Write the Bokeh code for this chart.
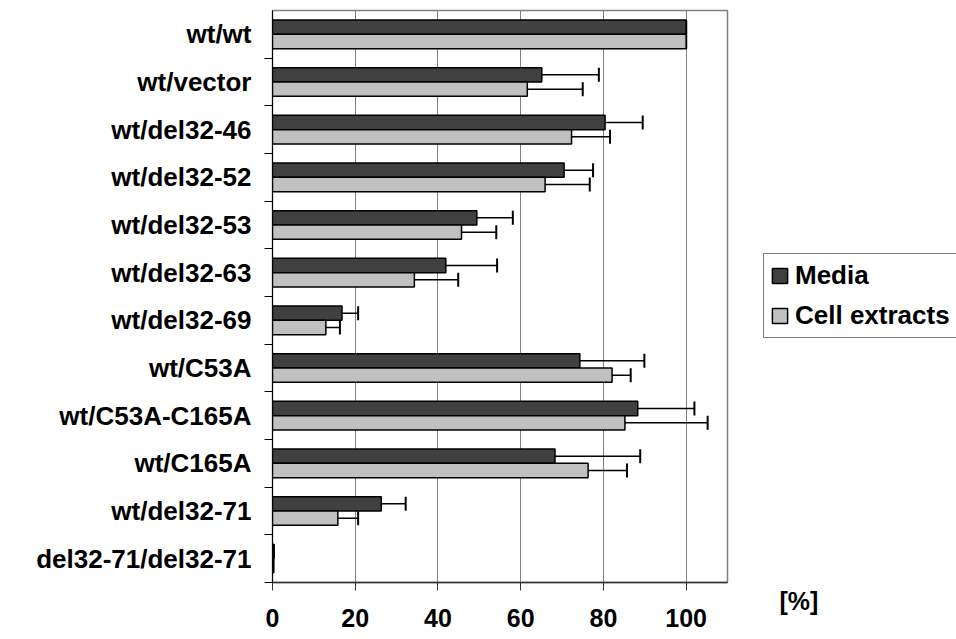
from bokeh.plotting import figure
from bokeh.layouts import row
from bokeh.models import (Range1d, FixedTicker, ColumnDataSource, Whisker, TeeHead,
                          Legend, LegendItem, Title, CustomJSTickFormatter)
from bokeh.embed import file_html
from bokeh.resources import INLINE

categories = ["wt/wt", "wt/vector", "wt/del32-46", "wt/del32-52", "wt/del32-53",
              "wt/del32-63", "wt/del32-69", "wt/C53A", "wt/C53A-C165A", "wt/C165A",
              "wt/del32-71", "del32-71/del32-71"]
media = [100, 65.1, 80.4, 70.5, 49.4, 41.9, 16.8, 74.3, 88.3, 68.3, 26.3, 0.3]
media_err = [0, 13.8, 9.1, 7.0, 8.7, 12.4, 3.9, 15.6, 13.7, 20.6, 5.9, 0]
cell = [100, 61.6, 72.3, 65.9, 45.7, 34.3, 12.9, 82.1, 85.2, 76.3, 15.8, 0.2]
cell_err = [0, 13.4, 9.3, 10.8, 8.4, 10.6, 3.4, 4.5, 20.0, 9.4, 4.9, 0]
x_ticks = [0, 20, 40, 60, 80, 100]
grid_ticks = [20, 40, 60, 80, 100]
series_names = ["Media", "Cell extracts"]
series_colors = ["#404040", "#c0c0c0"]
unit_text = "[%]"

n = len(categories)
pos = [n - 1 - i for i in range(n)]          # first category at the top
bottom_up = list(reversed(categories))
bar_h = 0.3

src = ColumnDataSource(dict(
    ym=[k + bar_h / 2 for k in pos],
    yc=[k - bar_h / 2 for k in pos],
    media=media, cell=cell,
    m_lo=[v - e for v, e in zip(media, media_err)],
    m_hi=[v + e for v, e in zip(media, media_err)],
    c_lo=[v - e for v, e in zip(cell, cell_err)],
    c_hi=[v + e for v, e in zip(cell, cell_err)],
))

FONT = "Liberation Sans"
H = 639

p = figure(width=760, height=H, x_range=Range1d(0, 110), y_range=Range1d(-0.5, n - 0.5),
           output_backend="svg", toolbar_location=None,
           min_border_left=272, min_border_right=33, min_border_top=10, min_border_bottom=57)
p.background_fill_color = "white"
p.border_fill_color = "white"
p.outline_line_color = "#808080"
p.outline_line_width = 1.5

# grid
p.ygrid.visible = False
p.xgrid.ticker = FixedTicker(ticks=grid_ticks)
p.xgrid.grid_line_color = "#808080"
p.xgrid.grid_line_width = 1

# x axis
xa = p.xaxis[0]
xa.ticker = FixedTicker(ticks=x_ticks)
xa.axis_line_color = "#303030"
xa.axis_line_width = 1.5
xa.major_tick_line_color = "#303030"
xa.major_tick_line_width = 1
xa.major_tick_out = 8
xa.major_tick_in = 0
xa.minor_tick_line_color = None
xa.major_label_text_font = FONT
xa.major_label_text_font_style = "bold"
xa.major_label_text_font_size = "25px"
xa.major_label_text_color = "black"
xa.major_label_standoff = 18

# y axis
ya = p.yaxis[0]
ya.ticker = FixedTicker(ticks=pos, minor_ticks=[k - 0.5 for k in range(n)])
ya.formatter = CustomJSTickFormatter(args=dict(labels=bottom_up),
                                     code="const i = Math.round(tick); return labels[i] ?? '';")
ya.axis_line_color = "black"
ya.axis_line_width = 1
ya.major_tick_out = 0
ya.major_tick_in = 0
ya.minor_tick_out = 8
ya.minor_tick_in = 0
ya.minor_tick_line_color = "black"
ya.minor_tick_line_width = 1
ya.major_label_text_font = FONT
ya.major_label_text_font_style = "bold"
ya.major_label_text_font_size = "26px"
ya.major_label_text_color = "black"
ya.major_label_standoff = 13

# bars
r1 = p.hbar(y="ym", left=0, right="media", height=bar_h, source=src,
            fill_color=series_colors[0], line_color="black", line_width=1.5)
r2 = p.hbar(y="yc", left=0, right="cell", height=bar_h, source=src,
            fill_color=series_colors[1], line_color="black", line_width=1.5)

# error bars
for base, lo, hi in (("ym", "m_lo", "m_hi"), ("yc", "c_lo", "c_hi")):
    w = Whisker(source=src, base=base, lower=lo, upper=hi, dimension="width",
                line_color="black", line_width=1.5,
                lower_head=TeeHead(size=14, line_width=2, line_color="black"),
                upper_head=TeeHead(size=14, line_width=2, line_color="black"))
    p.add_layout(w)

# side panel holding the legend and the unit label
q = figure(width=196, height=H, x_range=Range1d(0, 110), y_range=Range1d(-0.5, n - 0.5),
           x_axis_type=None, y_axis_type=None, output_backend="svg", toolbar_location=None,
           min_border_left=0, min_border_right=0, min_border_top=10, min_border_bottom=57)
q.outline_line_color = None
q.background_fill_color = "white"
q.border_fill_color = "white"
q.grid.visible = False
# legend keys: same series styling, not drawn in this panel
k1 = q.hbar(y="ym", left=0, right="media", height=bar_h, source=src, visible=False,
            fill_color=series_colors[0], line_color="black", line_width=1.5)
k2 = q.hbar(y="yc", left=0, right="cell", height=bar_h, source=src, visible=False,
            fill_color=series_colors[1], line_color="black", line_width=1.5)

legend = Legend(items=[LegendItem(label=series_names[0], renderers=[k1], index=0),
                       LegendItem(label=series_names[1], renderers=[k2], index=0)],
                location=(3, 244), orientation="vertical")
legend.border_line_color = "black"
legend.border_line_width = 1
legend.background_fill_color = "white"
legend.background_fill_alpha = 1
legend.inactive_fill_alpha = 0
legend.padding = 6
legend.spacing = 9
legend.margin = 0
legend.glyph_width = 19
legend.glyph_height = 19
legend.label_height = 30
legend.label_standoff = 6
legend.label_text_font = FONT
legend.label_text_font_style = "bold"
legend.label_text_font_size = "26px"
legend.label_text_color = "black"
q.add_layout(legend)

unit = Title(text=unit_text, align="left", offset=19, standoff=4,
             text_font=FONT, text_font_style="bold", text_font_size="25px",
             text_color="black")
q.add_layout(unit, "below")

layout = row(p, q, spacing=0)
open("out.html", "w").write(file_html(layout, INLINE))
